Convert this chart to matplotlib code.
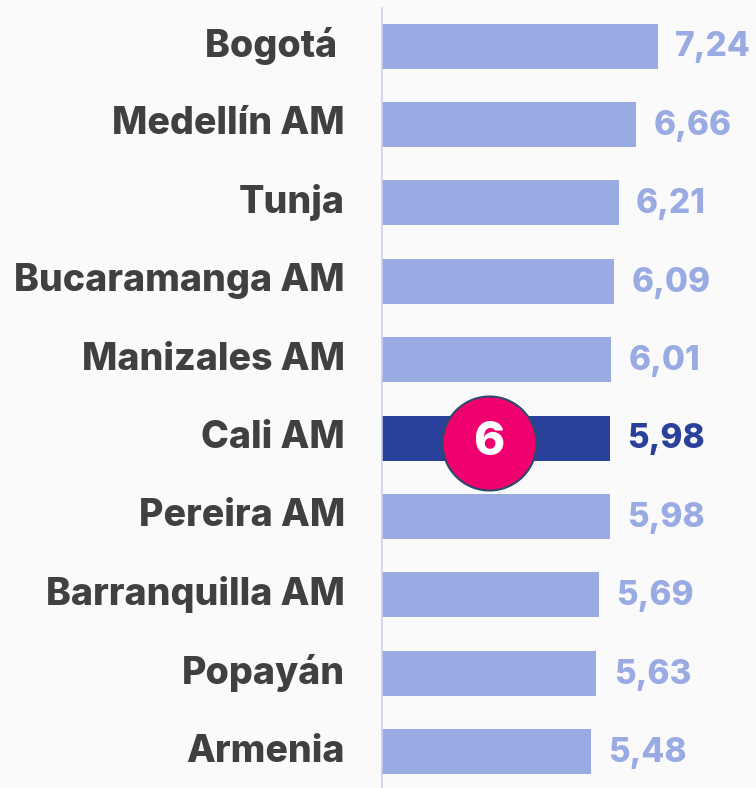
import matplotlib
matplotlib.use("Agg")
import matplotlib.pyplot as plt
import matplotlib.transforms as mtransforms

cities = ["Bogotá ", "Medellín AM", "Tunja", "Bucaramanga AM", "Manizales AM",
          "Cali AM", "Pereira AM", "Barranquilla AM", "Popayán", "Armenia"]
values = [7.24, 6.66, 6.21, 6.09, 6.01, 5.98, 5.98, 5.69, 5.63, 5.48]
value_labels = ["7,24", "6,66", "6,21", "6,09", "6,01", "5,98", "5,98", "5,69", "5,63", "5,48"]
highlight = "Cali AM"
rank_label = "6"

W, H = 756, 788
DPI = 100
BG = "#fafafa"
LIGHT = "#9aabe4"
DARK = "#29419a"
PINK = "#f0006f"
LABEL_C = "#404040"
LABEL_FONT = "Inter"
VALUE_FONT = "Inter"

fig = plt.figure(figsize=(W / DPI, H / DPI), dpi=DPI, facecolor=BG)
ax_left = 381 / W
ax = fig.add_axes([ax_left, 0, 1 - ax_left, 1], facecolor=BG)

px_per_unit = 38.26
xmax = (W - 381) / px_per_unit
row = 78.4
top_c = 46
ax.set_xlim(0, xmax)
ax.set_ylim((H - top_c) / row, -top_c / row)

ypos = list(range(len(cities)))
colors = [DARK if c == highlight else LIGHT for c in cities]
ax.barh(ypos, values, height=45 / row, color=colors, edgecolor="none", zorder=2)

for sp in ax.spines.values():
    sp.set_visible(False)
ax.set_xticks([])
ax.set_yticks([])

ax.axvline(0, ymin=0, ymax=1 - 8 / H, color="#cdd3f7", lw=1.8, zorder=3)

lab_trans = mtransforms.blended_transform_factory(fig.transFigure, ax.transData)
for i, (c, v, vl) in enumerate(zip(cities, values, value_labels)):
    ax.text(345 / W, i, c, transform=lab_trans, ha="right", va="center",
            fontsize=27, fontweight=800, color=LABEL_C, family=LABEL_FONT)
    ax.annotate(vl, xy=(v, i), xytext=(12.5, -1), textcoords="offset points",
                ha="left", va="center", fontsize=24, fontweight=800,
                color=DARK if c == highlight else LIGHT, family=VALUE_FONT)

hi = cities.index(highlight)
cx = (489 - 381) / px_per_unit
cy = hi + (443 - (top_c + row * hi)) / row
ax.scatter([cx], [cy], s=(94 * 0.72) ** 2, color=PINK, edgecolors="#2c4a6b",
           linewidths=1.5, zorder=5)
ax.text(cx, cy, rank_label, ha="center", va="center", fontsize=34,
        fontweight=800, color="white", family=VALUE_FONT, zorder=6)

fig.savefig("out.png", dpi=DPI, facecolor=BG)
